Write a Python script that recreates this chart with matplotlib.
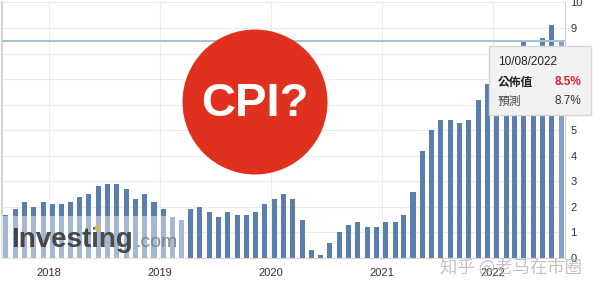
import numpy as np
import pandas as pd
import matplotlib
matplotlib.use('Agg')
import matplotlib.pyplot as plt
from matplotlib.patches import Ellipse, Rectangle, FancyBboxPatch

# US CPI YoY (%) by reference month, Jul 2017 .. Jul 2022
ref_months = pd.date_range('2017-07-01', '2022-07-01', freq='MS')
cpi_values = [1.7, 1.9, 2.2, 2.0, 2.2, 2.1,
              2.1, 2.2, 2.4, 2.5, 2.8, 2.9, 2.9, 2.7, 2.3, 2.5, 2.2, 1.9,
              1.6, 1.5, 1.9, 2.0, 1.8, 1.6, 1.8, 1.7, 1.7, 1.8, 2.1, 2.3,
              2.5, 2.3, 1.5, 0.3, 0.1, 0.6, 1.0, 1.3, 1.4, 1.2, 1.2, 1.4,
              1.4, 1.7, 2.6, 4.2, 5.0, 5.4, 5.4, 5.3, 5.4, 6.2, 6.8, 7.0,
              7.5, 7.9, 8.5, 8.3, 8.6, 9.1, 8.5]
year_ticks = ['2018', '2019', '2020', '2021', '2022']
y_ticks = [0, 1, 2, 3, 4, 5, 6, 7, 8, 9, 10]
# 6, 7 and 8 sit under the tooltip
y_labels = ['0', '1', '2', '3', '4', '5', '', '', '', '9', '10']

# tooltip content
tip_date = '10/08/2022'
tip_actual = '8.5%'
tip_forecast = '8.7%'

# bars are plotted at release date (next month, around the 12th)
release_dates = ref_months + pd.DateOffset(months=1) + pd.Timedelta(days=11)

W, H = 600, 292
fig = plt.figure(figsize=(W / 100, H / 100), dpi=100)
plt.rcParams['font.family'] = ['Liberation Sans', 'DejaVu Sans']

ax = fig.add_axes([2 / W, 34 / H, 563 / W, (258 - 2.4) / H])

colors = ['#5a7fae'] * len(cpi_values)
colors[-1] = '#86a2c8'
ax.bar(release_dates, cpi_values, width=16.5, color=colors, zorder=2)

# crosshair at the hovered value
ax.axhline(8.5, color='#a9c1cf', lw=1.5, zorder=3)

ax.set_ylim(0, 10)
ax.set_xlim(pd.Timestamp('2017-07-30'), pd.Timestamp('2022-08-25'))
ax.set_yticks(y_ticks)
ax.set_yticklabels(y_labels)
ax.yaxis.tick_right()
ax.set_xticks([pd.Timestamp(y + '-01-01') for y in year_ticks])
ax.set_xticklabels(year_ticks)
ax.tick_params(axis='both', length=0, labelsize=8, colors='#333333')
ax.tick_params(axis='x', pad=7)
ax.tick_params(axis='y', pad=4)
ax.grid(True, color='#ececec', lw=0.8, zorder=0)
ax.spines['top'].set_visible(False)
for side in ['left', 'right', 'bottom']:
    ax.spines[side].set_color('#d3d3d3')
ax.spines['left'].set_linewidth(1.5)


def fx(px):
    return px / W


def fy(py):
    return 1 - py / H


# Investing.com watermark panel
fig.add_artist(Rectangle((0, fy(259)), fx(187), (259 - 216) / H, transform=fig.transFigure,
                         facecolor='white', alpha=0.45, edgecolor='none', zorder=5))
fig.text(fx(11), fy(247), 'Investing', fontsize=20, fontweight='bold', color='#383838',
         alpha=0.9, ha='left', va='baseline', zorder=6)
fig.text(fx(135), fy(247), '.com', fontsize=14, color='#7d7d7d',
         alpha=0.9, ha='left', va='baseline', zorder=6)
fig.add_artist(Ellipse((fx(97), fy(228)), 5 / W, 5 / H, transform=fig.transFigure,
                       facecolor='#f0b030', edgecolor='none', zorder=7))

# red CPI? badge
fig.add_artist(Ellipse((fx(255), fy(102)), 145 / W, 145 / H, transform=fig.transFigure,
                       facecolor='#e0301e', edgecolor='none', zorder=8))
fig.text(fx(255), fy(104), 'CPI?', fontsize=34, fontweight='bold', color='white',
         ha='center', va='center', zorder=9)

# tooltip
fig.add_artist(FancyBboxPatch((fx(489), fy(115)), 102 / W, 69 / H, transform=fig.transFigure,
                              boxstyle='square,pad=0', facecolor='#f2f2f2',
                              edgecolor='#d6d6d6', lw=1, zorder=10))
fig.text(fx(498), fy(62), tip_date, fontsize=8.5, color='#222222', va='center', zorder=11)
fig.text(fx(498), fy(82), '公佈值', fontsize=8.5, fontweight='bold', color='#222222',
         va='center', family=['Noto Sans CJK TC', 'DejaVu Sans'], zorder=11)
fig.text(fx(581), fy(82), tip_actual, fontsize=8.5, fontweight='bold', color='#e0202a',
         va='center', ha='right', zorder=11)
fig.text(fx(498), fy(101), '預測', fontsize=8.5, color='#444444',
         va='center', family=['Noto Sans CJK TC', 'DejaVu Sans'], zorder=11)
fig.text(fx(581), fy(101), tip_forecast, fontsize=8.5, color='#333333',
         va='center', ha='right', zorder=11)

# zhihu watermark
fig.text(fx(440), fy(268), '知乎 @老马在市圈', fontsize=12.5, color='#b8b8b8', alpha=0.85,
         va='center', ha='left', family=['Noto Sans CJK SC', 'DejaVu Sans'], zorder=12)

fig.savefig('out.png', dpi=100)
